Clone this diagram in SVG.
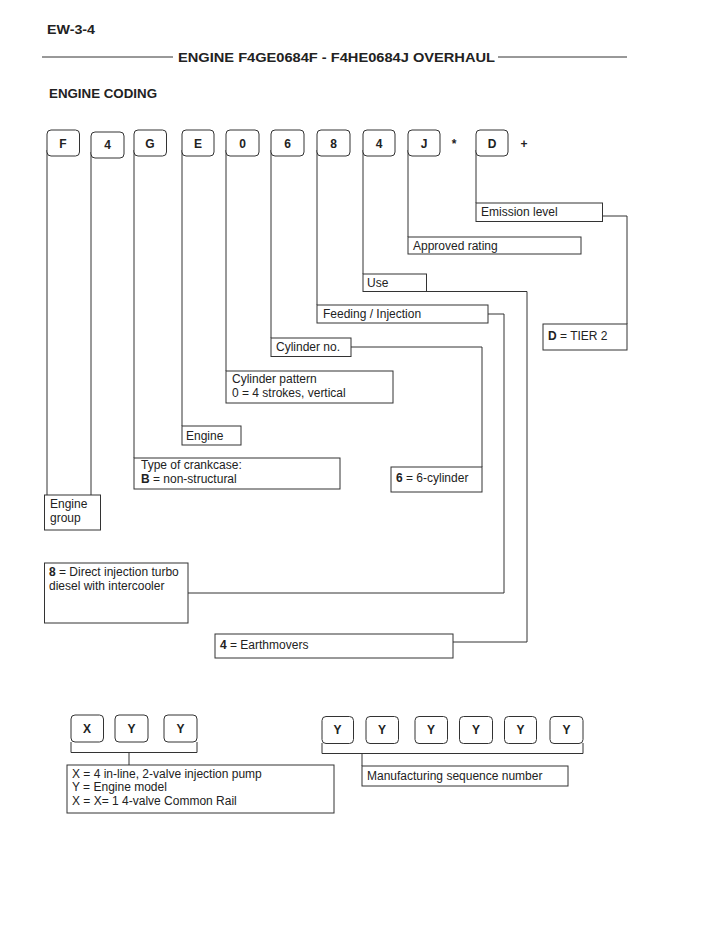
<svg xmlns="http://www.w3.org/2000/svg" width="710" height="929" viewBox="0 0 710 929">
<style>
text{font-family:"Liberation Sans",Arial,sans-serif;fill:#222}
.h{font-weight:bold;font-size:13px}
.t{font-size:12px}
.b{font-weight:bold}
.k{font-weight:bold;font-size:12px;text-anchor:middle}
.key{fill:#fff;stroke:#333;stroke-width:1}
.box{fill:#fff;stroke:#333;stroke-width:1}
.ln{fill:none;stroke:#333;stroke-width:1}
</style>
<rect width="710" height="929" fill="#fff"/>
<g id="header">
<text x="47" y="34" class="h" font-size="13" textLength="48" lengthAdjust="spacingAndGlyphs">EW-3-4</text>
<line x1="42" y1="57" x2="173" y2="57" class="ln"/>
<line x1="498" y1="57" x2="627" y2="57" class="ln"/>
<text x="178" y="62" class="h" font-size="15" textLength="317" lengthAdjust="spacingAndGlyphs">ENGINE F4GE0684F - F4HE0684J OVERHAUL</text>
<text x="49" y="98" class="h" textLength="108" lengthAdjust="spacingAndGlyphs">ENGINE CODING</text>
</g>
<g id="connectors">
<path class="ln" d="M47,150 V495"/>
<path class="ln" d="M91,152 V495"/>
<path class="ln" d="M134,150 V458"/>
<path class="ln" d="M182,150 V426"/>
<path class="ln" d="M226,150 V371"/>
<path class="ln" d="M271,150 V338"/>
<path class="ln" d="M317,150 V305"/>
<path class="ln" d="M363,150 V274"/>
<path class="ln" d="M408,150 V237"/>
<path class="ln" d="M476,150 V203"/>
<path class="ln" d="M602,216 H627 V324"/>
<path class="ln" d="M426,291.5 H527 V642 H453"/>
<path class="ln" d="M488,314 H504 V593 H188"/>
<path class="ln" d="M350,347 H482 V467"/>
<path class="ln" d="M71,742 V752.5 H197 V742"/>
<path class="ln" d="M129,752.5 V765"/>
<path class="ln" d="M322,743 V753.5 H583 V743"/>
<path class="ln" d="M362,753.5 V766"/>
</g>
<g id="code-keys">
<rect class="key" x="47" y="130" width="32.5" height="26" rx="4"/><text class="k" x="63" y="148">F</text>
<rect class="key" x="91" y="132" width="33" height="26" rx="4"/><text class="k" x="107.5" y="149">4</text>
<rect class="key" x="134" y="130" width="32.5" height="26" rx="4"/><text class="k" x="150" y="148">G</text>
<rect class="key" x="182" y="130" width="32" height="26" rx="4"/><text class="k" x="198" y="148">E</text>
<rect class="key" x="226" y="130" width="33" height="26" rx="4"/><text class="k" x="242.5" y="148">0</text>
<rect class="key" x="271" y="130" width="33" height="26" rx="4"/><text class="k" x="287.5" y="148">6</text>
<rect class="key" x="317" y="130" width="33" height="26" rx="4"/><text class="k" x="333.5" y="148">8</text>
<rect class="key" x="363" y="130" width="32" height="26" rx="4"/><text class="k" x="379" y="148">4</text>
<rect class="key" x="408" y="130" width="32" height="26" rx="4"/><text class="k" x="424" y="148">J</text>
<text class="k" x="454" y="148">*</text>
<rect class="key" x="476" y="130" width="32" height="26" rx="4"/><text class="k" x="492" y="148">D</text>
<text class="k" x="524" y="148">+</text>
</g>
<g id="emission-level"><rect class="box" x="476" y="203" width="126.5" height="18.5"/><text class="t" x="481" y="216">Emission level</text></g>
<g id="approved-rating"><rect class="box" x="408" y="237" width="173" height="17"/><text class="t" x="413" y="250">Approved rating</text></g>
<g id="use"><rect class="box" x="363" y="274" width="63.5" height="17.5"/><text class="t" x="367" y="287">Use</text></g>
<g id="feeding"><rect class="box" x="317" y="305" width="171" height="18"/><text class="t" x="323" y="318">Feeding / Injection</text></g>
<g id="tier2"><rect class="box" x="543" y="324" width="84" height="26"/><text class="t" x="548" y="340"><tspan class="b">D</tspan> = TIER 2</text></g>
<g id="cylinder-no"><rect class="box" x="271" y="338" width="80" height="18.5"/><text class="t" x="276" y="351">Cylinder no.</text></g>
<g id="cylinder-pattern"><rect class="box" x="226" y="371" width="167" height="32"/><text class="t" x="232" y="383">Cylinder pattern</text><text class="t" x="232" y="397">0 = 4 strokes, vertical</text></g>
<g id="engine"><rect class="box" x="182" y="426" width="59" height="19"/><text class="t" x="186" y="440">Engine</text></g>
<g id="crankcase"><rect class="box" x="134" y="458" width="206" height="31"/><text class="t" x="141" y="469">Type of crankcase:</text><text class="t" x="141" y="483"><tspan class="b">B</tspan> = non-structural</text></g>
<g id="six-cylinder"><rect class="box" x="391" y="467" width="91" height="25"/><text class="t" x="396" y="482"><tspan class="b">6</tspan> = 6-cylinder</text></g>
<g id="engine-group"><rect class="box" x="44.5" y="495" width="56" height="35"/><text class="t" x="50" y="508">Engine</text><text class="t" x="50" y="522">group</text></g>
<g id="direct-injection"><rect class="box" x="44.5" y="563" width="143.5" height="60"/><text class="t" x="49" y="576"><tspan class="b">8</tspan> = Direct injection turbo</text><text class="t" x="49" y="590">diesel with intercooler</text></g>
<g id="earthmovers"><rect class="box" x="215" y="634" width="238" height="24"/><text class="t" x="220" y="649"><tspan class="b">4</tspan> = Earthmovers</text></g>
<g id="model-keys">
<rect class="key" x="71" y="715" width="32.5" height="27" rx="4"/><text class="k" x="87" y="733">X</text>
<rect class="key" x="115" y="715" width="33" height="27" rx="4"/><text class="k" x="131.5" y="733">Y</text>
<rect class="key" x="164" y="715" width="33" height="27" rx="4"/><text class="k" x="180.5" y="733">Y</text>
</g>
<g id="model-desc"><rect class="box" x="67" y="765" width="267" height="48"/><text class="t" x="72" y="778">X = 4 in-line, 2-valve injection pump</text><text class="t" x="72" y="791">Y = Engine model</text><text class="t" x="72" y="805">X = X= 1 4-valve Common Rail</text></g>
<g id="seq-keys">
<rect class="key" x="322" y="716.5" width="31.5" height="27" rx="4"/><text class="k" x="337.5" y="734">Y</text>
<rect class="key" x="366" y="716.5" width="32.5" height="27" rx="4"/><text class="k" x="382" y="734">Y</text>
<rect class="key" x="415" y="716.5" width="32.5" height="27" rx="4"/><text class="k" x="431" y="734">Y</text>
<rect class="key" x="459.5" y="716.5" width="33" height="27" rx="4"/><text class="k" x="476" y="734">Y</text>
<rect class="key" x="504.5" y="716.5" width="32" height="27" rx="4"/><text class="k" x="520.5" y="734">Y</text>
<rect class="key" x="550" y="716.5" width="33" height="27" rx="4"/><text class="k" x="566.5" y="734">Y</text>
</g>
<g id="seq-desc"><rect class="box" x="362" y="766" width="206" height="20"/><text class="t" x="367" y="780">Manufacturing sequence number</text></g>
</svg>
